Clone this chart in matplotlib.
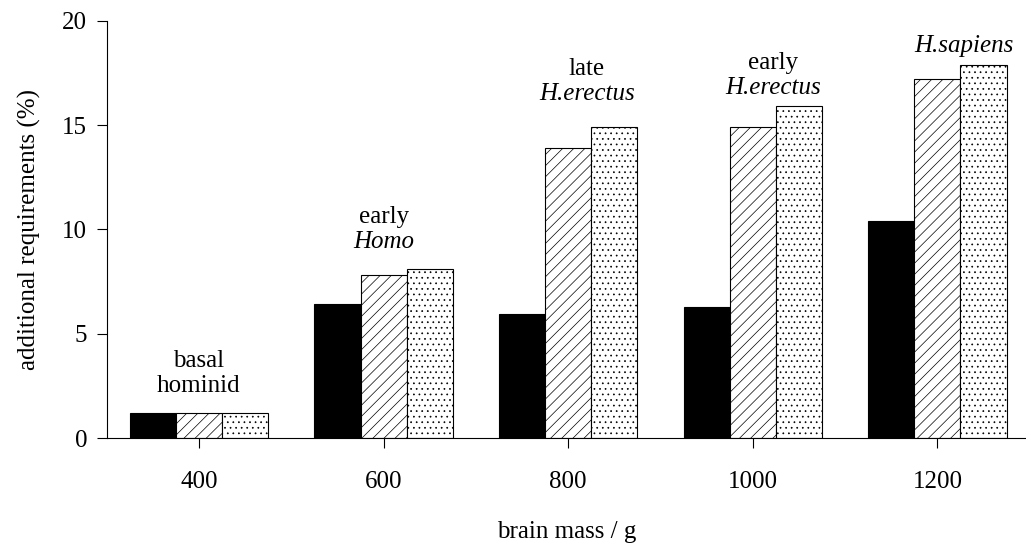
import numpy as np
import matplotlib
matplotlib.use('Agg')
import matplotlib.pyplot as plt

plt.rcParams['font.family'] = ['Liberation Serif', 'DejaVu Serif']
plt.rcParams['font.size'] = 18
plt.rcParams['hatch.linewidth'] = 0.5

# data
brain_mass = [400, 600, 800, 1000, 1200]
series_black = [1.2, 6.45, 5.95, 6.3, 10.4]
series_hatched = [1.2, 7.8, 13.9, 14.9, 17.2]
series_dotted = [1.2, 8.1, 14.9, 15.9, 17.9]

# group labels: (x, y_top_line, top line, bottom line, bottom line italic?)
group_labels = [
    (400, 3.7, 'basal', 'hominid', False),
    (600, 10.6, 'early', 'Homo', True),
    (820, 17.7, 'late', 'H.erectus', True),
    (1022, 18.0, 'early', 'H.erectus', True),
]
sapiens_label = (1229, 18.8, 'H.sapiens')

fig = plt.figure(figsize=(10.26, 5.47), dpi=100)
ax = fig.add_axes([0.104, 0.199, 0.896, 0.763])

x = np.array(brain_mass, dtype=float)
w = 50
ax.bar(x - w, series_black, width=w, color='black', edgecolor='black', linewidth=0.8)
ax.bar(x, series_hatched, width=w, color='white', edgecolor='black', linewidth=0.8, hatch='///')
ax.bar(x + w, series_dotted, width=w, color='white', edgecolor='black', linewidth=0.8, hatch='...')

ax.set_xlim(300, 1296)
ax.set_ylim(0, 20)
ax.set_xticks(brain_mass)
ax.set_yticks([0, 5, 10, 15, 20])
ax.tick_params(axis='x', direction='out', length=7, width=0.8, pad=17)
ax.tick_params(axis='y', direction='out', length=7, width=0.8, pad=7)
ax.spines['top'].set_visible(False)
ax.spines['right'].set_visible(False)
ax.spines['left'].set_linewidth(0.8)
ax.spines['bottom'].set_linewidth(0.8)

ax.set_xlabel('brain mass / g', labelpad=20)
ax.set_ylabel('additional requirements (%)', labelpad=15)

for gx, gy, top, bottom, ital in group_labels:
    ax.text(gx, gy, top, ha='center', va='center')
    ax.text(gx, gy - 1.2, bottom, ha='center', va='center',
            style='italic' if ital else 'normal')
ax.text(sapiens_label[0], sapiens_label[1], sapiens_label[2],
        ha='center', va='center', style='italic')

fig.savefig('out.png', dpi=100)
